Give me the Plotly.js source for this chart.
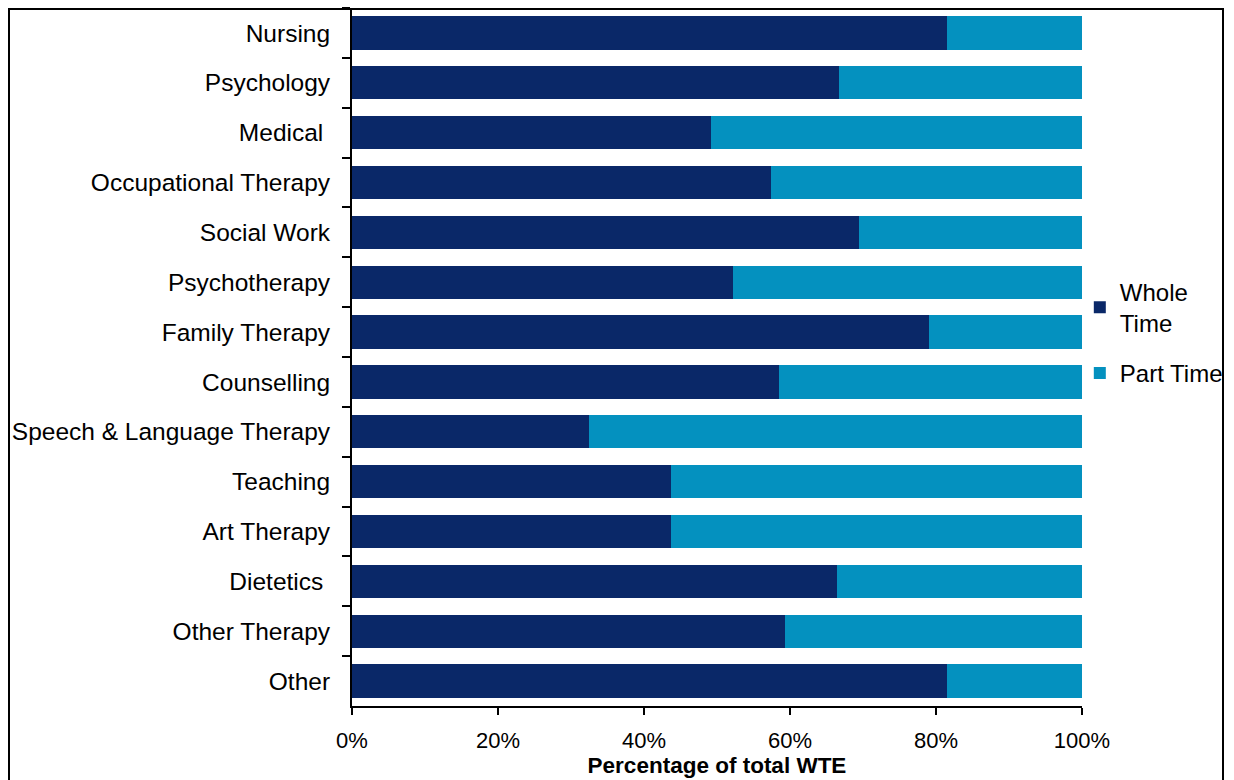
<!DOCTYPE html>
<html>
<head>
<meta charset="utf-8">
<script src="https://cdn.plot.ly/plotly-3.0.1.min.js"></script>
<style>
html,body{margin:0;padding:0;width:1234px;height:780px;overflow:hidden;background:#fff;}
#frame{position:absolute;left:8px;top:8px;width:1216px;height:800px;border:2px solid #000;box-sizing:border-box;pointer-events:none;z-index:5;}
#chart{position:absolute;left:0;top:0;width:1234px;height:780px;}
</style>
</head>
<body>
<div id="chart"></div>
<div id="frame"></div>
<script>
const categories = ["Nursing","Psychology","Medical\u00a0","Occupational Therapy","Social Work","Psychotherapy","Family Therapy","Counselling","Speech & Language Therapy","Teaching","Art Therapy","Dietetics\u00a0","Other Therapy","Other"];
const wholeTime = [81.5,66.7,49.2,57.4,69.5,52.2,79.0,58.5,32.5,43.7,43.7,66.4,59.3,81.5];
const partTime = wholeTime.map(v => +(100 - v).toFixed(1));
const xTickVals = [0,20,40,60,80,100];
const xTickText = ["0%","20%","40%","60%","80%","100%"];

const font = "Liberation Sans, Arial, sans-serif";
const data = [
  {type:"bar", orientation:"h", name:"Whole<br>Time", y:categories, x:wholeTime, legendgroup:"w",
   marker:{color:"#0A2868"}, hoverinfo:"x+y"},
  {type:"bar", orientation:"h", name:"Part Time", y:categories, x:partTime, legendgroup:"p",
   marker:{color:"#0491BF"}, hoverinfo:"x+y"}
];
const layout = {
  width:1234, height:780,
  margin:{l:352, r:152, t:8, b:74, autoexpand:false},
  barmode:"stack", bargap:0.33,
  paper_bgcolor:"#fff", plot_bgcolor:"#fff",
  font:{family:font, color:"#000"},
  showlegend:true,
  legend:{x:0.997, xanchor:"left", y:0.535, yanchor:"middle", traceorder:"grouped",
          font:{size:24, family:font}, bgcolor:"rgba(0,0,0,0)", tracegroupgap:16},
  xaxis:{range:[0,100], tickvals:xTickVals, ticktext:xTickText, showgrid:false, zeroline:false,
         showline:true, linecolor:"#000", linewidth:2, ticks:"outside", ticklen:7, tickwidth:2,
         tickcolor:"#000", tickfont:{size:22, family:font}, ticklabelstandoff:7,
         title:{text:"<b>Percentage of total WTE</b>", font:{size:22.5, family:font}, standoff:5}},
  yaxis:{type:"category", autorange:"reversed", showgrid:false, zeroline:false, showline:true,
         linecolor:"#000", linewidth:2, ticks:"outside", ticklen:8, tickwidth:2, tickcolor:"#000",
         tickson:"boundaries", tickfont:{size:24.5, family:font}, ticklabelstandoff:15}
};
Plotly.newPlot("chart", data, layout, {displayModeBar:false, staticPlot:true});
</script>
</body>
</html>
